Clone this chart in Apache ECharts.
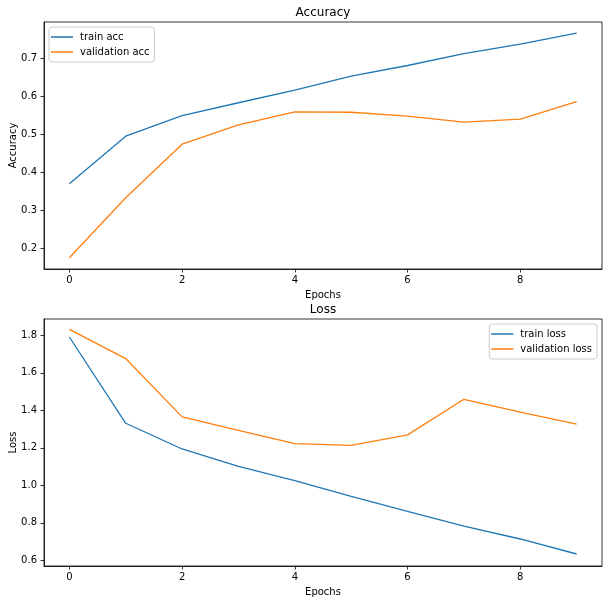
<!DOCTYPE html>
<html>
<head>
<meta charset="utf-8">
<script src="https://cdn.jsdelivr.net/npm/echarts@6/dist/echarts.min.js"></script>
<style>html,body{margin:0;padding:0;background:#fff;}#c{width:609px;height:604px;}</style>
</head>
<body>
<div id="c"></div>
<script>
const epochs = [0,1,2,3,4,5,6,7,8,9];
const trainAcc = [0.370,0.495,0.549,0.583,0.616,0.653,0.681,0.712,0.737,0.766];
const valAcc = [0.175,0.333,0.474,0.525,0.559,0.558,0.548,0.532,0.540,0.586];
const trainLoss = [1.791,1.331,1.194,1.101,1.025,0.941,0.861,0.783,0.714,0.634];
const valLoss = [1.832,1.676,1.365,1.293,1.222,1.213,1.269,1.459,1.391,1.327];
const xTicks = [0,2,4,6,8];
const accTicks = [0.2,0.3,0.4,0.5,0.6,0.7];
const lossTicks = [0.6,0.8,1.0,1.2,1.4,1.6,1.8];

const FONT = 'DejaVu Sans';
const BLUE = '#1f77b4', ORANGE = '#ff7f0e';
const pair = (xs, ys) => xs.map((x,i)=>[x, ys[i]]);

function xAxisCfg(gi){
  return {
    type:'value', gridIndex:gi, min:-0.45, max:9.45,
    name:'Epochs', nameLocation:'middle', nameGap:21, nameMoveOverlap:false,
    nameTextStyle:{fontFamily:FONT,fontSize:10,color:'#000'},
    axisLine:{show:true,onZero:false,lineStyle:{color:'#000',width:0.8}},
    axisTick:{show:true,length:3.5,customValues:xTicks,lineStyle:{color:'#000',width:0.8}},
    axisLabel:{customValues:xTicks,fontFamily:FONT,fontSize:10,color:'#000',margin:6,
      formatter:v=>String(v)},
    splitLine:{show:false}
  };
}
function yAxisCfg(gi,name,min,max,ticks){
  return {
    type:'value', gridIndex:gi, min:min, max:max,
    name:name, nameLocation:'middle', nameGap:26, nameMoveOverlap:false,
    nameTextStyle:{fontFamily:FONT,fontSize:10,color:'#000'},
    axisLine:{show:true,onZero:false,lineStyle:{color:'#000',width:0.8}},
    axisTick:{show:true,length:3.5,customValues:ticks,lineStyle:{color:'#000',width:0.8}},
    axisLabel:{customValues:ticks,fontFamily:FONT,fontSize:10,color:'#000',margin:7,
      formatter:v=>v.toFixed(1)},
    splitLine:{show:false}
  };
}
function lineSeries(name,xi,yi,data,color){
  return {type:'line',name:name,xAxisIndex:xi,yAxisIndex:yi,data:data,
    showSymbol:false,symbol:'none',lineStyle:{color:color,width:1.3},itemStyle:{color:color},
    animation:false};
}
const legendBase = {
  orient:'vertical', icon:'rect', itemWidth:22, itemHeight:1.5, itemGap:5,
  textStyle:{fontFamily:FONT,fontSize:10,color:'#000',padding:[0,0,0,2]},
  borderColor:'#ccc', borderWidth:1, borderRadius:3, padding:[5,5,5,2],
  backgroundColor:'rgba(255,255,255,0.8)'
};
const gridBase = {left:44,right:7,height:247,show:true,borderColor:'#000',borderWidth:0.8,
  containLabel:false,outerBoundsMode:'none'};
const chart = echarts.init(document.getElementById('c'),null,{renderer:'canvas'});
chart.setOption({
  animation:false,
  backgroundColor:'#fff',
  title:[
    {text:'Accuracy',left:323,top:7,textAlign:'center',padding:0,textStyle:{fontFamily:FONT,fontSize:12,fontWeight:'normal',color:'#000'}},
    {text:'Loss',left:323,top:304,textAlign:'center',padding:0,textStyle:{fontFamily:FONT,fontSize:12,fontWeight:'normal',color:'#000'}}
  ],
  grid:[
    Object.assign({},gridBase,{top:22}),
    Object.assign({},gridBase,{top:319})
  ],
  legend:[
    Object.assign({},legendBase,{left:49,top:27,data:['train acc','validation acc']}),
    Object.assign({},legendBase,{right:12,top:324,data:['train loss','validation loss']})
  ],
  xAxis:[xAxisCfg(0),xAxisCfg(1)],
  yAxis:[
    yAxisCfg(0,'Accuracy',0.1455,0.7955,accTicks),
    yAxisCfg(1,'Loss',0.570,1.887,lossTicks)
  ],
  series:[
    lineSeries('train acc',0,0,pair(epochs,trainAcc),BLUE),
    lineSeries('validation acc',0,0,pair(epochs,valAcc),ORANGE),
    lineSeries('train loss',1,1,pair(epochs,trainLoss),BLUE),
    lineSeries('validation loss',1,1,pair(epochs,valLoss),ORANGE)
  ]
});
</script>
</body>
</html>
